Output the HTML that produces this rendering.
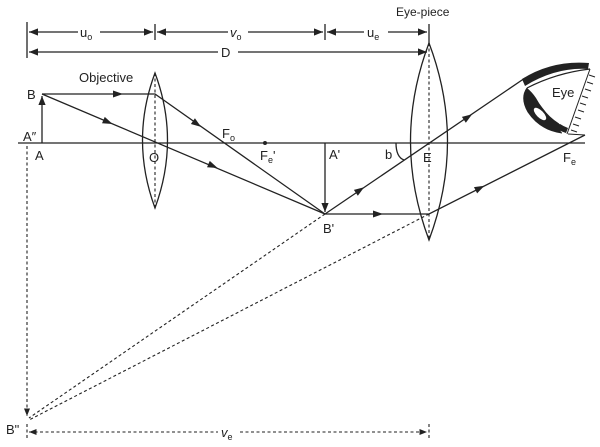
<!DOCTYPE html>
<html><head><style>body{margin:0;background:#fff}svg{display:block}text{font-family:"Liberation Sans",sans-serif;fill:#222}</style></head>
<body>
<svg width="600" height="447" viewBox="0 0 600 447" xmlns="http://www.w3.org/2000/svg">
<defs>
<marker id="a" viewBox="0 0 10 10" refX="10" refY="5" markerWidth="7" markerHeight="7" orient="auto-start-reverse"><path d="M0,1 L10,5 L0,9 z" fill="#222"/></marker>
<path id="t" d="M-5,-3.5 L5,0 L-5,3.5z" fill="#222"/>
</defs>
<g stroke="#222" stroke-width="1.3" fill="none">
<line x1="27" y1="22" x2="27" y2="58"/>
<line x1="155" y1="24" x2="155" y2="40"/>
<line x1="325" y1="24" x2="325" y2="40"/>
<line x1="429" y1="24" x2="429" y2="45"/>
<line x1="29" y1="32" x2="78" y2="32" marker-start="url(#a)"/>
<line x1="100" y1="32" x2="153" y2="32" marker-end="url(#a)"/>
<line x1="157" y1="32" x2="228" y2="32" marker-start="url(#a)"/>
<line x1="248" y1="32" x2="323" y2="32" marker-end="url(#a)"/>
<line x1="327" y1="32" x2="364" y2="32" marker-start="url(#a)"/>
<line x1="388" y1="32" x2="427" y2="32" marker-end="url(#a)"/>
<line x1="29" y1="52" x2="218" y2="52" marker-start="url(#a)"/>
<line x1="238" y1="52" x2="427" y2="52" marker-end="url(#a)"/>
<line x1="18" y1="143" x2="585" y2="143"/>
<path d="M155,73 Q130,140 155,208 Q180,140 155,73z"/>
<path d="M429,43 Q392,141 429,240 Q466,141 429,43z"/>
<line x1="42" y1="143" x2="42" y2="96" marker-end="url(#a)"/>
<line x1="325" y1="143" x2="325" y2="212" marker-end="url(#a)"/>
<polyline points="42,94 155,94 325,214"/>
<line x1="42" y1="94" x2="325" y2="214"/>
<polyline points="325,214 429,214 585,135"/>
<line x1="325" y1="214" x2="525" y2="78"/>
<path d="M396,143 Q396,157 404,160"/>
</g>
<g stroke="#222" stroke-width="1.1" stroke-dasharray="3,2.5" fill="none">
<line x1="155" y1="73" x2="155" y2="208"/>
<line x1="429" y1="43" x2="429" y2="240"/>
<line x1="27" y1="146" x2="27" y2="416" marker-end="url(#a)"/>
<line x1="325" y1="214" x2="29" y2="418"/>
<line x1="429" y1="214" x2="29" y2="420"/>
<line x1="29" y1="432" x2="218" y2="432" marker-start="url(#a)"/>
<line x1="240" y1="432" x2="427" y2="432" marker-end="url(#a)"/>
<line x1="429" y1="424" x2="429" y2="440"/>
<line x1="27" y1="424" x2="27" y2="440"/>
</g>
<use href="#t" transform="translate(118,94)"/>
<use href="#t" transform="translate(197,124) rotate(35.2)"/>
<use href="#t" transform="translate(108,122) rotate(23)"/>
<use href="#t" transform="translate(213,166) rotate(23)"/>
<use href="#t" transform="translate(378,214)"/>
<use href="#t" transform="translate(360,190) rotate(-34.2)"/>
<use href="#t" transform="translate(468,117) rotate(-34.2)"/>
<use href="#t" transform="translate(480,188) rotate(-26.9)"/>
<circle cx="265" cy="143" r="2" fill="#222"/>
<!-- eye -->
<path d="M522,79 Q552,60 589,63 L588,69 Q556,67 525,86z" fill="#222"/>
<path d="M527,88 Q556,73 590,69" fill="none" stroke="#222" stroke-width="1.2"/>
<path d="M527,88 Q528,120 566,133 L568,128 Q548,120 536,98 Q532,92 527,88z" fill="#222"/>
<path d="M527,88 Q520,98 528,112 Q540,130 562,133" fill="#222" stroke="#222"/>
<path d="M538,98 Q552,108 560,124" fill="none" stroke="#fff" stroke-width="1.2"/>
<ellipse cx="540" cy="114" rx="3.5" ry="8" transform="rotate(-45 540 114)" fill="#fff"/>
<g stroke="#222" stroke-width="1">
<line x1="590" y1="69" x2="567" y2="134"/>
<line x1="568" y1="134" x2="585" y2="135"/>
<line x1="589" y1="75" x2="595" y2="77"/><line x1="587" y1="82" x2="593" y2="84"/><line x1="585" y1="89" x2="591" y2="91"/><line x1="582" y1="96" x2="588" y2="98"/><line x1="580" y1="103" x2="586" y2="105"/><line x1="578" y1="110" x2="584" y2="112"/><line x1="575" y1="117" x2="581" y2="119"/><line x1="573" y1="124" x2="579" y2="126"/><line x1="571" y1="130" x2="577" y2="132"/>
</g>
<text x="80" y="37" font-size="13">u<tspan font-size="9" dy="3">o</tspan></text>
<text x="230" y="37" font-size="13" font-style="italic" font-family="Liberation Serif">v<tspan font-size="9" dy="3" font-family="Liberation Sans" font-style="normal">o</tspan></text>
<text x="367" y="37" font-size="13">u<tspan font-size="9" dy="3">e</tspan></text>
<text x="221" y="57" font-size="13">D</text>
<text x="396" y="16" font-size="12">Eye-piece</text>
<text x="79" y="82" font-size="13">Objective</text>
<text x="27" y="99" font-size="13">B</text>
<text x="23" y="141" font-size="13">A″</text>
<text x="35" y="160" font-size="13">A</text>
<text x="149" y="162" font-size="13">O</text>
<text x="222" y="138" font-size="13">F<tspan font-size="9" dy="3">o</tspan></text>
<text x="260" y="160" font-size="13">F<tspan font-size="9" dy="3">e</tspan><tspan dy="-3">'</tspan></text>
<text x="329" y="159" font-size="13">A'</text>
<text x="385" y="159" font-size="13" font-family="Liberation Serif">b</text>
<text x="423" y="162" font-size="13">E</text>
<text x="323" y="233" font-size="13">B'</text>
<text x="552" y="97" font-size="13">Eye</text>
<text x="563" y="162" font-size="13">F<tspan font-size="9" dy="3">e</tspan></text>
<text x="6" y="434" font-size="13">B"</text>
<text x="221" y="437" font-size="13" font-style="italic" font-family="Liberation Serif">v<tspan font-size="9" dy="3" font-family="Liberation Sans" font-style="normal">e</tspan></text>
</svg>
</body></html>
